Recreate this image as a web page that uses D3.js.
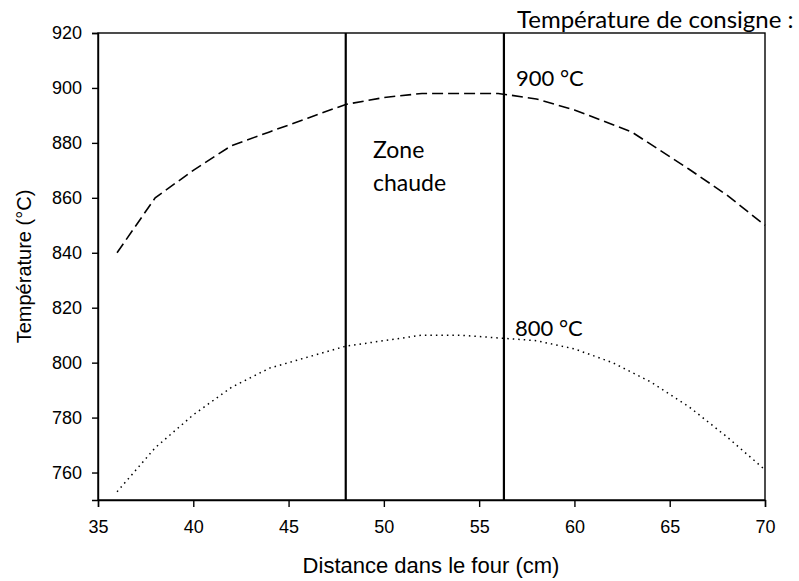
<!DOCTYPE html>
<html>
<head>
<meta charset="utf-8">
<script src="https://cdn.jsdelivr.net/npm/d3@7"></script>
<style>
  body { margin: 0; background: #fff; }
  svg { display: block; }
</style>
</head>
<body>
<script>
// ---- Data ----
const dist900 = [36, 38, 40, 42, 44, 46, 48, 50, 52, 54, 56, 58, 60, 63, 66, 68, 70];
const temp900 = [840, 860, 870, 879, 884, 889, 894, 896.5, 898, 898, 898, 896, 892, 884, 870.5, 861, 850];
const dist800 = [36, 38, 40, 42, 44, 46, 48, 50, 52, 54, 56, 58, 60, 62, 64, 66, 68, 70];
const temp800 = [753, 769, 781, 791, 798, 802, 806, 808, 810, 810, 809, 808, 805, 800, 793, 784, 773, 761];
const zoneBounds = [48, 56.3];
const xTicks = [35, 40, 45, 50, 55, 60, 65, 70];
const yTicks = [760, 780, 800, 820, 840, 860, 880, 900, 920];
const xDomain = [35, 70];
const yDomain = [750, 920];

const W = 799, H = 581;
const m = { left: 98, right: 34, top: 33, bottom: 81 };

const svg = d3.select("body").append("svg").attr("width", W).attr("height", H);

const x = d3.scaleLinear().domain(xDomain).range([m.left, W - m.right]);
const y = d3.scaleLinear().domain(yDomain).range([H - m.bottom, m.top]);

const axisFont = "'Liberation Sans', Arial, sans-serif";
const labelFont = "Lato, 'Open Sans', sans-serif";

// frame
svg.append("rect")
  .attr("x", x(35)).attr("y", y(920))
  .attr("width", x(70) - x(35)).attr("height", y(750) - y(920))
  .attr("fill", "none").attr("stroke", "#000").attr("stroke-width", 1.4);

// axes
const gx = svg.append("g").attr("transform", `translate(0,${y(750)})`)
  .call(d3.axisBottom(x).tickValues(xTicks).tickSize(7).tickPadding(13).tickFormat(d3.format("d")));
const gy = svg.append("g").attr("transform", `translate(${x(35)},0)`)
  .call(d3.axisLeft(y).tickValues(yTicks).tickSize(6).tickPadding(10).tickFormat(d3.format("d")));
[gx, gy].forEach(g => {
  g.select(".domain").attr("stroke", "#000").attr("stroke-width", 1.4);
  g.selectAll(".tick line").attr("stroke", "#000").attr("stroke-width", 1.4);
  g.selectAll(".tick text").attr("fill", "#000")
    .style("font-family", axisFont).style("font-size", "18px");
});

// zone lines
svg.selectAll("line.zone").data(zoneBounds).enter().append("line")
  .attr("class", "zone")
  .attr("x1", d => x(d)).attr("x2", d => x(d))
  .attr("y1", y(920)).attr("y2", y(750))
  .attr("stroke", "#000").attr("stroke-width", 2.2);

const line = d3.line().x(d => x(d[0])).y(d => y(d[1]));

svg.append("path")
  .datum(dist900.map((d, i) => [d, temp900[i]]))
  .attr("d", line).attr("fill", "none")
  .attr("stroke", "#000").attr("stroke-width", 1.6)
  .attr("stroke-dasharray", "11,5");

svg.append("path")
  .datum(dist800.map((d, i) => [d, temp800[i]]))
  .attr("d", line).attr("fill", "none")
  .attr("stroke", "#000").attr("stroke-width", 1.5)
  .attr("stroke-dasharray", "1.5,4");

// axis titles
svg.append("text")
  .attr("x", 431).attr("y", 573)
  .attr("text-anchor", "middle")
  .style("font-family", axisFont).style("font-size", "22px")
  .text("Distance dans le four (cm)");

svg.append("text")
  .attr("transform", `translate(31,${(y(750) + y(920)) / 2}) rotate(-90)`)
  .attr("text-anchor", "middle")
  .style("font-family", axisFont).style("font-size", "20px")
  .text("Température (°C)");

// annotations
const ann = [
  { t: "Température de consigne :", x: 517, y: 28, s: 24 },
  { t: "900 °C", x: 516, y: 86, s: 22 },
  { t: "800 °C", x: 515, y: 336, s: 22 },
  { t: "Zone", x: 373, y: 158, s: 23 },
  { t: "chaude", x: 373, y: 191, s: 23 }
];
svg.selectAll("text.ann").data(ann).enter().append("text")
  .attr("class", "ann")
  .attr("x", d => d.x).attr("y", d => d.y)
  .style("font-family", labelFont).style("font-size", d => d.s + "px")
  .attr("fill", "#000")
  .text(d => d.t);
</script>
</body>
</html>
